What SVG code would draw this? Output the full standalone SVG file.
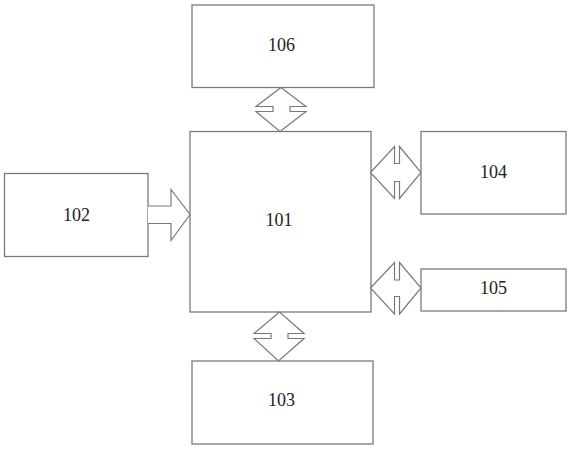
<svg xmlns="http://www.w3.org/2000/svg" width="571" height="450" viewBox="0 0 571 450">
<style>
.box{fill:#fff;stroke:#7a7a7a;stroke-width:1.3}
.arr{fill:#fff;stroke:#7a7a7a;stroke-width:1.2;stroke-linejoin:miter}
.lbl{font-family:"Liberation Serif","Times New Roman",serif;font-size:18px;fill:#222;text-anchor:middle}
</style>
<rect width="571" height="450" fill="#fff"/>
<g id="node-106"><rect class="box" x="192" y="5" width="182" height="82.5"/><text class="lbl" x="281.5" y="51">106</text></g>
<g id="node-101"><rect class="box" x="190" y="131.5" width="181" height="180.5"/><text class="lbl" x="279" y="225.5">101</text></g>
<g id="node-102"><rect class="box" x="4.5" y="173.5" width="143.5" height="83"/><text class="lbl" x="76.5" y="221">102</text></g>
<g id="node-104"><rect class="box" x="421" y="131.5" width="145" height="82.5"/><text class="lbl" x="493.5" y="178">104</text></g>
<g id="node-105"><rect class="box" x="421" y="269" width="145" height="42"/><text class="lbl" x="493.5" y="293.5">105</text></g>
<g id="node-103"><rect class="box" x="192" y="361" width="181" height="83"/><text class="lbl" x="281.5" y="406">103</text></g>
<g id="connectors">
<path class="arr" d="M281,87.5 L256,106.5 L273,106.5 L273,111.5 L256,111.5 L280,131.5 L306,111.5 L290,111.5 L290,106.5 L306,106.5 Z"/>
<path class="arr" d="M279.5,312 L254,333.5 L271,333.5 L271,338.5 L254,338.5 L278.5,361 L304,338.5 L288,338.5 L288,333.5 L304,333.5 Z"/>
<path class="arr" d="M370.5,172.5 L394.5,146.5 L394.5,163.5 L399.5,163.5 L399.5,146.5 L421,172.5 L399.5,198.5 L399.5,181.5 L394.5,181.5 L394.5,198.5 Z"/>
<path class="arr" d="M370.5,288 L394.5,262.5 L394.5,280 L399.5,280 L399.5,262.5 L421,288 L399.5,314 L399.5,296.5 L394.5,296.5 L394.5,314 Z"/>
<path class="arr" d="M148,206 L171,206 L171,189.5 L190,214.5 L171,240.5 L171,223.5 L148,223.5"/>
</g>
</svg>
